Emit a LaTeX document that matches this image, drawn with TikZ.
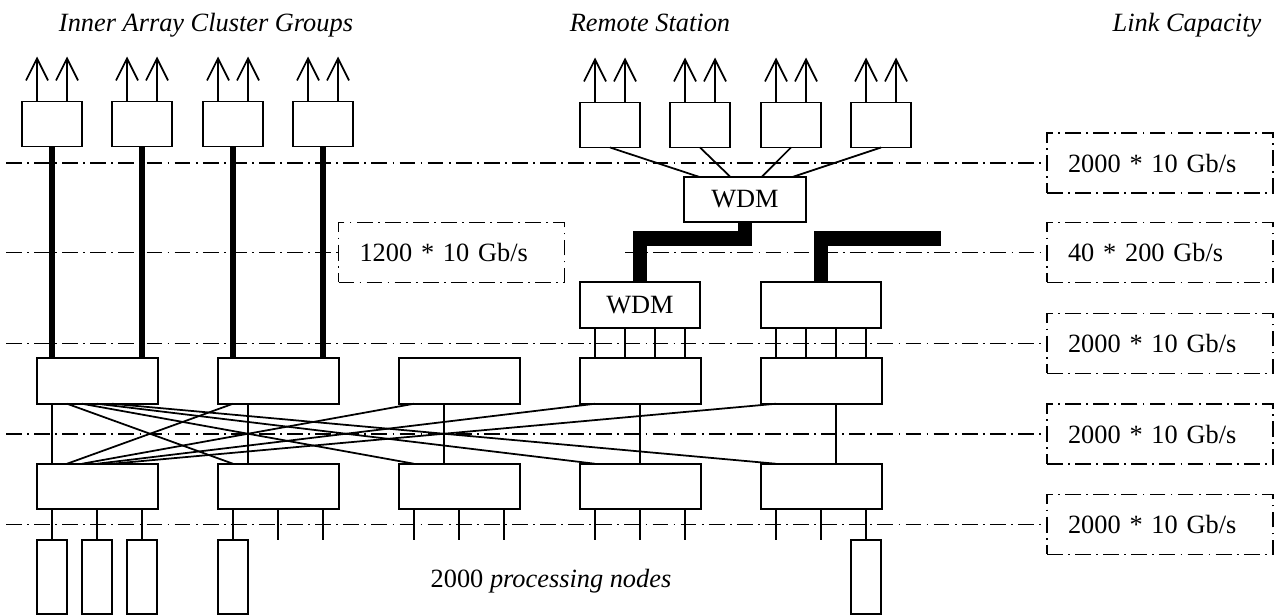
\documentclass[tikz,border=0pt]{standalone}
\usepackage{fontspec}
\setmainfont{Liberation Serif}
\usetikzlibrary{arrows.meta, calc}

\begin{document}
\begin{tikzpicture}[
    x=0.02cm, y=-0.02cm,
    every node/.style={font=\fontsize{15}{18}\selectfont, inner sep=0pt, outer sep=0pt},
    box/.style={rectangle, draw, line width=1.1pt, minimum width=1.2cm, minimum height=0.9cm},
    switch/.style={rectangle, draw, line width=1.1pt, minimum width=2.42cm, minimum height=0.91cm},
    proc/.style={rectangle, draw, line width=1.1pt, minimum width=0.6cm, minimum height=1.48cm},
    levelline/.style={line width=1pt, dash pattern=on 9pt off 3pt on 1pt off 3pt},
    capbox/.style={rectangle, draw, levelline, minimum height=1.2cm,
        text width=3.68cm, inner xsep=0.42cm, align=left},
    wire/.style={line width=1pt},
    outarrow/.style={-{Straight Barb[length=12.5pt, width=12.5pt]}, line width=1pt},
    bus/.style={line width=3pt},
    fat/.style={line width=8.5pt, line join=miter},
    title/.style={font=\fontsize{15}{18}\selectfont\itshape, anchor=base},
]
\path[fill=white] (0,0) rectangle (1276,615);

% ============================================================ headings
\node[title] (hinner) at (206,32) {Inner Array Cluster Groups};
\node[title] (hremote) at (650,32) {Remote Station};
\node[title] (hcap) at (1187,32) {Link Capacity};

% ============================================================ inner array cluster groups
\foreach \x [count=\i] in {52, 142, 233, 323}{
    \node[box] (I\i) at (\x, 124) {};
    \draw[outarrow] ($(I\i.north west)+(15,0)$) -- ++(0,-45);
    \draw[outarrow] ($(I\i.north west)+(45,0)$) -- ++(0,-45);
}

% ============================================================ remote station
\foreach \x [count=\i] in {610, 700, 791, 881}{
    \node[box] (R\i) at (\x, 125) {};
    \draw[outarrow] ($(R\i.north west)+(15,0)$) -- ++(0,-45);
    \draw[outarrow] ($(R\i.north west)+(45,0)$) -- ++(0,-45);
}

% ============================================================ the two switch rows
\foreach \i in {1,...,5}{
    \node[switch] (A\i) at ({97.5+181*(\i-1)}, 381) {};
    \node[switch] (B\i) at ({97.5+181*(\i-1)}, 486.5) {};
}

% straight down: port i of A_i to port i of B_i
\foreach \i in {1,...,5}{
    \draw[wire] ($(A\i.south west)+({15*\i},0)$) -- ($(B\i.north west)+({15*\i},0)$);
}
% the first switch of each row talks to all the others
\foreach \j in {2,...,5}{
    \draw[wire] ($(A1.south west)+({15*\j},0)$) -- ($(B\j.north west)+(15,0)$);
    \draw[wire] ($(A\j.south west)+(15,0)$) -- ($(B1.north west)+({15*\j},0)$);
}

% ============================================================ WDM
\node[switch, minimum width=2.4cm] (W1) at (640,305) {WDM};
\node[switch, minimum width=2.4cm] (W2) at (821,305) {};
\node[switch, minimum width=2.44cm, minimum height=0.9cm] (W0) at (745,199.5) {WDM};

\foreach \k in {1,3,5,7}{
    \draw[wire] ($(W1.south west)+({15*\k},0)$) -- ($(A4.north west)+({15*\k},0)$);
    \draw[wire] ($(W2.south west)+({15*\k},0)$) -- ($(A5.north west)+({15*\k},0)$);
}
\foreach \i in {1,...,4}{
    \draw[wire] (R\i.south) -- ($(W0.north west)+({15.5+31*(\i-1)},0)$);
}

% the fat trunks
\draw[fat] (W1.north) -- ++(0,-43.5) -| (W0.south);
\coordinate (trunk) at (941,238.5);
\draw[fat] (W2.north) |- (trunk);

% cluster links down to the first two switches
\foreach \n/\m in {1/1, 2/1, 3/2, 4/2}{
    \draw[bus] (I\n.south) -- (I\n.south |- A\m.north);
}

% ============================================================ processing nodes
\foreach \i in {1,...,5}{
    \foreach \p in {15,60,105}{
        \draw[wire] ($(B\i.south west)+(\p,0)$) -- ++(0,31);
    }
}
\foreach \i/\p/\n in {1/15/1, 1/60/2, 1/105/3, 2/15/4, 5/105/5}{
    \node[proc, anchor=north] (P\n) at ($(B\i.south west)+(\p,31)$) {};
}
\node[anchor=base] (pnodes) at (551,587) {2000 \textit{processing nodes}};

% ============================================================ link capacity levels
\node[capbox] (C0) at (451.5,252.5) {1200 * 10 Gb/s};
\foreach \k/\y/\t in {1/163/{2000 * 10 Gb/s}, 2/252.5/{40 * 200 Gb/s}, 3/343.5/{2000 * 10 Gb/s},
                     4/434/{2000 * 10 Gb/s}, 5/524.5/{2000 * 10 Gb/s}}{
    \node[capbox] (C\k) at (1160,\y) {\t};
    \coordinate (L\k) at (6,\y);
}
\foreach \k in {1,3,4,5}{
    \draw[levelline] (L\k) -- (L\k -| C\k.west);
}
\draw[levelline] (L2) -- (L2 -| C0.west);
\coordinate (L2b) at (625,252.5);
\draw[levelline] (L2b) -- (L2b -| C2.west);

\end{tikzpicture}
\end{document}
